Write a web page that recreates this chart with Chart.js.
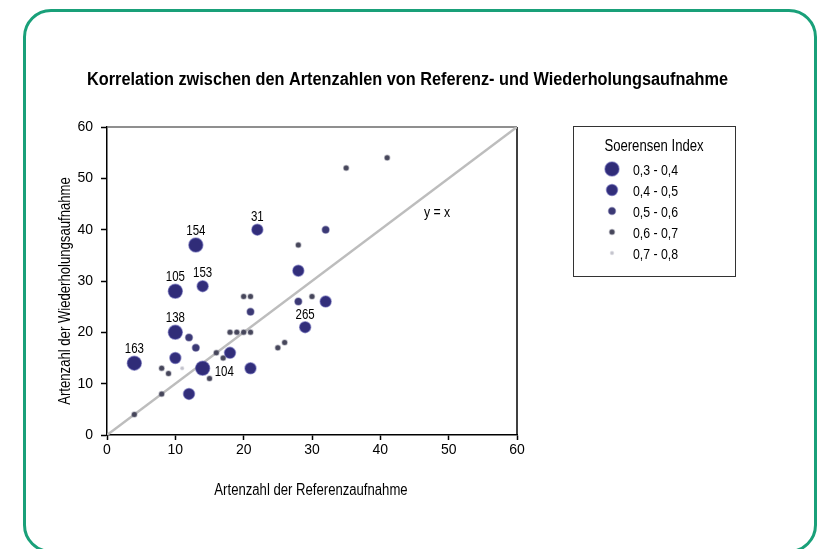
<!DOCTYPE html>
<html>
<head>
<meta charset="utf-8">
<script src="https://cdn.jsdelivr.net/npm/chart.js@4.4.1/dist/chart.umd.min.js"></script>
<style>
  html, body { margin: 0; padding: 0; background: #fff; }
  #wrap { position: relative; width: 827px; height: 549px; overflow: hidden; }
  #frame { position: absolute; left: 23px; top: 9px; width: 794px; height: 544px; box-sizing: border-box;
           border: 3px solid #19a079; border-radius: 28px; }
  canvas { position: absolute; left: 0; top: 0; }
</style>
</head>
<body>
<div id="wrap">
  <div id="frame"></div>
  <canvas id="chart" width="827" height="549"></canvas>
</div>
<script>
var FONT = '"Liberation Sans", Arial, sans-serif';
var NARROW = 0.82; // squeeze Arial towards Arial Narrow

// Soerensen Index classes
var classNames = ["0,3 - 0,4", "0,4 - 0,5", "0,5 - 0,6", "0,6 - 0,7", "0,7 - 0,8"];

// 0,3 - 0,4
var refA = [4, 10, 10, 13, 14];
var wdhA = [14, 20, 28, 37, 13];
// 0,4 - 0,5
var refB = [14, 22, 29, 10, 12, 18, 21, 28, 32];
var wdhB = [29, 40, 21, 15, 8, 16, 13, 32, 26];
// 0,5 - 0,6
var refC = [12, 13, 32, 21, 28];
var wdhC = [19, 17, 40, 24, 26];
// 0,6 - 0,7
var refD = [4, 8, 8, 9, 15, 16, 17, 20, 21, 18, 19, 20, 21, 25, 26, 30, 28, 35, 41];
var wdhD = [4, 8, 13, 12, 11, 16, 15, 27, 27, 20, 20, 20, 20, 17, 18, 27, 37, 52, 54];
// 0,7 - 0,8
var refE = [11];
var wdhE = [13];

// numbered plots
var plotIds = ["163", "138", "105", "154", "104", "153", "31", "265"];
var plotRef = [4, 10, 10, 13, 14, 14, 22, 29];
var plotWdh = [14, 20, 28, 37, 13, 29, 40, 21];

var axisTicks = [0, 10, 20, 30, 40, 50, 60];

// marker look per class
var radii = [7, 5.5, 3.5, 2.5, 1.5];
var fills = ["#302c78", "#322e7a", "#3b3974", "#46465a", "#c4c4cc"];
var halos = ["rgba(70,68,160,0.5)", "rgba(70,68,160,0.5)", "rgba(80,78,140,0.45)", "rgba(100,100,120,0.4)", "rgba(200,200,210,0.5)"];

function toPoints(xs, ys) {
  var pts = [];
  for (var i = 0; i < xs.length; i++) {
    pts.push({ x: xs[i], y: ys[i] });
  }
  return pts;
}

var series = [toPoints(refA, wdhA), toPoints(refB, wdhB), toPoints(refC, wdhC), toPoints(refD, wdhD), toPoints(refE, wdhE)];

var datasets = [];
for (var k = 0; k < series.length; k++) {
  datasets.push({
    type: "scatter",
    label: classNames[k],
    data: series[k],
    pointRadius: radii[k],
    pointHoverRadius: radii[k],
    backgroundColor: fills[k],
    borderColor: halos[k],
    borderWidth: 1.5,
    order: k
  });
}
// y = x line
datasets.push({
  type: "line",
  label: "y = x",
  data: [{ x: 0, y: 0 }, { x: 60, y: 60 }],
  borderColor: "#bdbdbd",
  borderWidth: 2.5,
  pointRadius: 0,
  fill: false,
  order: 20
});

// draws text squeezed horizontally, like a condensed face
function narrowText(ctx, text, x, y, font, align, sx, rot) {
  ctx.save();
  ctx.font = font;
  ctx.textBaseline = "middle";
  ctx.textAlign = "left";
  var w = ctx.measureText(text).width * sx;
  var off = align === "center" ? -w / 2 : (align === "right" ? -w : 0);
  ctx.translate(x, y);
  if (rot) ctx.rotate(rot);
  ctx.translate(off, 0);
  ctx.scale(sx, 1);
  ctx.fillText(text, 0, 0);
  ctx.restore();
}

var extras = {
  id: "extras",
  beforeDatasetsDraw: function (chart) {
    var ctx = chart.ctx, a = chart.chartArea;
    ctx.save();
    ctx.lineWidth = 1.5;
    ctx.strokeStyle = "#6a6a6a";
    ctx.beginPath();
    ctx.moveTo(a.left, a.top);
    ctx.lineTo(a.right, a.top);
    ctx.stroke();
    ctx.strokeStyle = "#000";
    ctx.beginPath();
    ctx.moveTo(a.right, a.top);
    ctx.lineTo(a.right, a.bottom);
    ctx.stroke();
    ctx.restore();
  },
  afterDraw: function (chart) {
    var ctx = chart.ctx;
    var xs = chart.scales.x, ys = chart.scales.y;
    ctx.save();
    ctx.fillStyle = "#000";

    // title, fitted to the width it has in the original
    var title = "Korrelation zwischen den Artenzahlen von Referenz- und Wiederholungsaufnahme";
    ctx.font = "bold 18px " + FONT;
    var tw = ctx.measureText(title).width;
    narrowText(ctx, title, 407.5, 80, "bold 18px " + FONT, "center", 641 / tw);

    // axis titles
    narrowText(ctx, "Artenzahl der Referenzaufnahme", 311, 491, "16px " + FONT, "center", NARROW);
    narrowText(ctx, "Artenzahl der Wiederholungsaufnahme", 66, 291, "16px " + FONT, "center", NARROW, -Math.PI / 2);

    // plot numbers
    var lf = "14px " + FONT;
    for (var i = 0; i < plotIds.length; i++) {
      var px = xs.getPixelForValue(plotRef[i]);
      var py = ys.getPixelForValue(plotWdh[i]);
      if (plotIds[i] === "104") {
        narrowText(ctx, plotIds[i], px + 12, py + 4, lf, "left", NARROW);
      } else {
        var r = (i < 5) ? radii[0] : radii[1];
        narrowText(ctx, plotIds[i], px, py - r - 7, lf, "center", NARROW);
      }
    }

    // y = x label
    narrowText(ctx, "y = x", xs.getPixelForValue(48.3), ys.getPixelForValue(43.2), "15px " + FONT, "center", NARROW);

    // legend box
    ctx.strokeStyle = "#333";
    ctx.lineWidth = 1;
    ctx.strokeRect(573.5, 126.5, 162, 150);
    narrowText(ctx, "Soerensen Index", 654, 147, "16px " + FONT, "center", NARROW);
    for (var j = 0; j < classNames.length; j++) {
      var ly = 169 + j * 21;
      ctx.beginPath();
      ctx.arc(612, ly, radii[j], 0, Math.PI * 2);
      ctx.fillStyle = fills[j];
      ctx.fill();
      ctx.lineWidth = 1.5;
      ctx.strokeStyle = halos[j];
      ctx.stroke();
      ctx.fillStyle = "#000";
      narrowText(ctx, classNames[j], 633, ly + 2, "15px " + FONT, "left", NARROW);
    }
    ctx.restore();
  }
};

new Chart(document.getElementById("chart"), {
  data: { datasets: datasets },
  options: {
    responsive: false,
    animation: false,
    layout: { padding: { left: 40, top: 127, right: 310, bottom: 40 } },
    plugins: { legend: { display: false }, title: { display: false }, tooltip: { enabled: false } },
    scales: {
      x: {
        type: "linear",
        min: 0,
        max: 60,
        afterBuildTicks: function (scale) {
          scale.ticks = axisTicks.map(function (v) { return { value: v }; });
        },
        afterFit: function (scale) { scale.height = 74; },
        ticks: { color: "#000", font: { family: FONT, size: 14 }, padding: 2, maxRotation: 0 },
        grid: { drawOnChartArea: false, tickLength: 5, tickColor: "#000", tickWidth: 1.5 },
        border: { color: "#000", width: 1.5 }
      },
      y: {
        type: "linear",
        min: 0,
        max: 60,
        afterBuildTicks: function (scale) {
          scale.ticks = axisTicks.map(function (v) { return { value: v }; });
        },
        afterFit: function (scale) { scale.width = 67; },
        ticks: { color: "#000", font: { family: FONT, size: 14 }, padding: 8 },
        grid: { drawOnChartArea: false, tickLength: 6, tickColor: "#000", tickWidth: 1.5 },
        border: { color: "#000", width: 1.5 }
      }
    }
  },
  plugins: [extras]
});
</script>
</body>
</html>
